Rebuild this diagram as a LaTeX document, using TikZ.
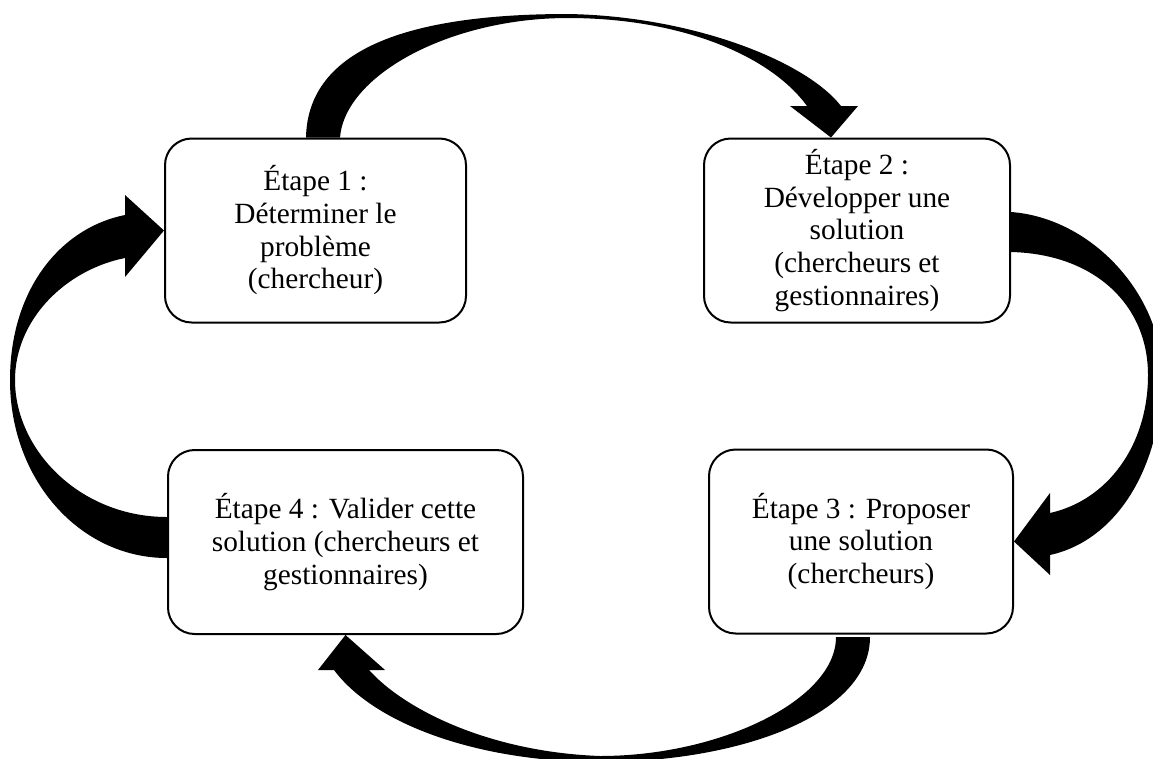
\documentclass[tikz,border=0pt]{standalone}
\usepackage{fontspec}
\setmainfont{Liberation Serif}
\usepackage{tikz}

\begin{document}
\begin{tikzpicture}[x=0.75pt,y=-0.75pt,
  stepbox/.style={draw,line width=1.5pt,rounded corners=20pt,align=center,
    minimum height=138pt,inner sep=2pt,font=\fontsize{22}{24.5}\selectfont},
  bigarrow/.style={fill=black}]
  \path[use as bounding box,clip] (0,0) rectangle (1153,758);
  \node[stepbox,minimum width=225.75pt] (s1) at (315.5,230.5) {Étape 1 :\\Déterminer le\\problème\\(chercheur)};
  \node[stepbox,minimum width=229.5pt] (s2) at (857,230.5) {Étape 2 :\\Développer une\\solution\\(chercheurs et\\gestionnaires)};
  \node[stepbox,minimum width=228pt] (s3) at (861,541.5) {Étape 3 : Proposer\\une solution\\(chercheurs)};
  \node[stepbox,minimum width=266.25pt] (s4) at (345.5,542) {Étape 4 : Valider cette\\solution (chercheurs et\\gestionnaires)};
  \fill[bigarrow] (306,0 |- s1.north) .. controls (308,40) and (430,14) .. (568,14)
    .. controls (690,16) and (805,60) .. (841,106) -- (858,106) -- (831,0 |- s2.north)
    -- (790,106) -- (807,106) .. controls (770,55) and (680,18) .. (568,18)
    .. controls (450,18) and (345,75) .. (340,0 |- s1.north) -- cycle;
  \fill[bigarrow] (s2.east |- 0,212) .. controls (1092,218) and (1162,295) .. (1162,375)
    .. controls (1162,465) and (1118,540) .. (1050,555) -- (1050,575) -- (s3.east)
    -- (1050,493) -- (1050,513) .. controls (1108,500) and (1148,445) .. (1148,375)
    .. controls (1148,305) and (1095,254) .. (s2.east |- 0,252) -- cycle;
  \fill[bigarrow] (870,637) .. controls (870,715) and (740,762) .. (600,762)
    .. controls (480,762) and (375,725) .. (334,670) -- (318,670) -- (s4.south)
    -- (385,670) -- (369,670) .. controls (405,710) and (490,752) .. (600,756)
    .. controls (720,756) and (836,700) .. (836,637) -- cycle;
  \fill[bigarrow] (s4.west |- 0,558) .. controls (80,558) and (10,480) .. (10,380)
    .. controls (10,290) and (60,228) .. (125,215) -- (125,195) -- (s1.west)
    -- (125,277) -- (125,258) .. controls (65,270) and (15,320) .. (15,380)
    .. controls (15,450) and (80,517) .. (s4.west |- 0,517) -- cycle;
\end{tikzpicture}
\end{document}
